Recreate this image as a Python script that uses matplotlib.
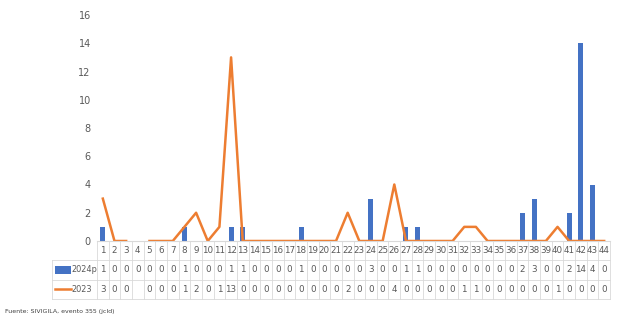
import matplotlib
matplotlib.use("Agg")
import matplotlib.pyplot as plt
import numpy as np

plt.rcParams["font.family"] = ["Liberation Sans Narrow", "DejaVu Sans"]

# ── Data ────────────────────────────────────────────────────────────────────
weeks = list(range(1, 45))
cases_2024p = [1, 0, 0, 0, 0, 0, 0, 1, 0, 0, 0, 1, 1, 0, 0, 0, 0, 1, 0, 0, 0, 0,
               0, 3, 0, 0, 1, 1, 0, 0, 0, 0, 0, 0, 0, 0, 2, 3, 0, 0, 2, 14, 4, 0]
cases_2023 = [3, 0, 0, None, 0, 0, 0, 1, 2, 0, 1, 13, 0, 0, 0, 0, 0, 0, 0, 0, 0, 2,
              0, 0, 0, 4, 0, 0, 0, 0, 0, 1, 1, 0, 0, 0, 0, 0, 0, 1, 0, 0, 0, 0]
y_ticks = [0, 2, 4, 6, 8, 10, 12, 14, 16]

BLUE = "#4472C4"
ORANGE = "#ED7D31"
GRID = "#D9D9D9"
TXT = "#595959"

W, H = 618, 321
fig = plt.figure(figsize=(W / 100, H / 100), dpi=100)

left, right = 97 / W, 610 / W
ax = fig.add_axes([left, 1 - 241 / H, right - left, (241 - 15) / H])
x = np.array(weeks)
ax.bar(x, cases_2024p, width=0.43, color=BLUE, zorder=2)
y23 = np.array([np.nan if v is None else v for v in cases_2023], dtype=float)
ax.plot(x, y23, color=ORANGE, lw=1.8, zorder=3)
ax.set_xlim(0.5, 44.5)
ax.set_ylim(0, 16)
ax.set_yticks(y_ticks)
ax.tick_params(axis="y", length=0, labelsize=7, labelcolor=TXT, pad=4.5)
ax.set_xticks([])
for s in ax.spines.values():
    s.set_visible(False)

# ── Data table ─────────────────────────────────────────────────────────────
tab = fig.add_axes([left, 1 - 299 / H, right - left, (299 - 241) / H])
tab.set_xlim(0.5, 44.5)
tab.set_ylim(3.3, 0)
tab.axis("off")
cat_px = (610 - 97) / 44
lab_left = 0.5 - (97 - 52) / cat_px
for xi in np.arange(0.5, 45, 1):
    tab.plot([xi, xi], [0, 3.3], color=GRID, lw=0.6, clip_on=False)
tab.plot([lab_left, lab_left], [1.1, 3.3], color=GRID, lw=0.6, clip_on=False)
for yi in [1.1, 2.2, 3.3]:
    tab.plot([lab_left, 44.5], [yi, yi], color=GRID, lw=0.6, clip_on=False)
tab.plot([0.5, 44.5], [0, 0], color=GRID, lw=0.8, clip_on=False)

for i, w in enumerate(weeks):
    tab.text(w, 0.55, str(w), ha="center", va="center", fontsize=6.3, color=TXT)
    tab.text(w, 1.65, str(cases_2024p[i]), ha="center", va="center", fontsize=6.3, color=TXT)
    v = cases_2023[i]
    if v is not None:
        tab.text(w, 2.75, str(v), ha="center", va="center", fontsize=6.3, color=TXT)

# legend keys in the table
k0 = lab_left + 3 / cat_px
k1 = lab_left + 19 / cat_px
tab.bar((k0 + k1) / 2, 0.45, bottom=1.45, width=k1 - k0, color=BLUE, clip_on=False)
tab.plot([k0, k1], [2.75, 2.75], color=ORANGE, lw=1.8, clip_on=False)
tab.text(k1 + 0.03, 1.65, "2024p", ha="left", va="center", fontsize=5.9, color=TXT)
tab.text(k1 + 0.03, 2.75, "2023", ha="left", va="center", fontsize=5.9, color=TXT)

fig.text(5 / W, 1 - 311 / H, "Fuente: SIVIGILA, evento 355 (jcld)", fontsize=4.5,
         color="#404040", ha="left", va="center")

fig.savefig("out.png", dpi=100)
